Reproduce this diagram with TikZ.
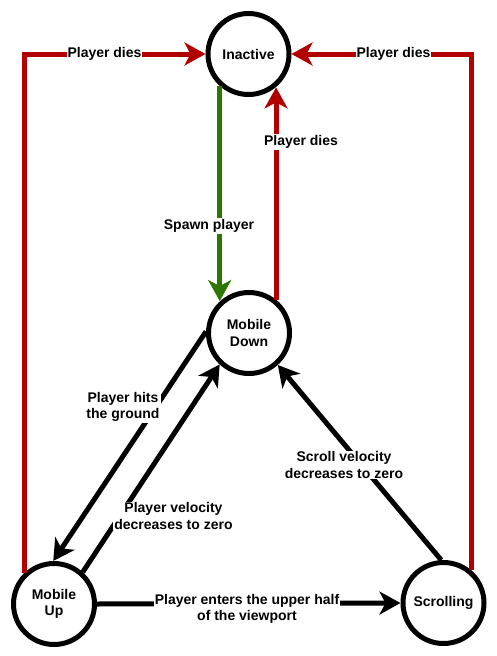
\documentclass[tikz,border=0pt]{standalone}
\usepackage{fontspec}
\setmainfont{Liberation Sans}
\usetikzlibrary{arrows.meta}
\definecolor{dred}{HTML}{B20000}
\definecolor{dgreen}{HTML}{2D7600}
\begin{document}
\begin{tikzpicture}[x=1pt,y=-1pt,
  state/.style={circle,draw=black,line width=5pt,minimum size=81pt,inner sep=0pt,align=center,font=\bfseries\fontsize{14}{16.5}\selectfont},
  conn/.style={line width=5pt,-{Stealth[length=21pt,width=23pt,inset=6pt]}},
  redconn/.style={conn,draw=dred,color=dred},
  lbl/.style={fill=white,inner sep=1pt,align=center,font=\bfseries\fontsize{14}{16.5}\selectfont}]
\useasboundingbox (0,0) rectangle (496,656);
\node[state] (IN) at (248.5,54) {Inactive};
\node[state] (MD) at (249,333) {Mobile\\Down};
\node[state] (MU) at (54,604) {Mobile\\Up};
\node[state] (SC) at (443.5,603) {Scrolling};
% red connectors
\draw[redconn] (MU.134) |- (IN.west);
\draw[redconn] (SC.50) |- (IN.east);
\draw[redconn] (MD.51) -- (MD.51 |- IN.-51);
% green
\draw[conn,draw=dgreen,color=dgreen] (IN.-132) -- (IN.-132 |- MD.132);
% black
\draw[conn] (MD.178) -- (MU.91);
\draw[conn] (MU.48) -- (MD.-133);
\draw[conn] (SC.93) -- (MD.-48);
\draw[conn] (MU.east) -- (SC.west);
% labels
\node[lbl] (l1) at (104.5,54) {Player dies};
\node[lbl] (l2) at (393.5,54) {Player dies};
\node[lbl] (l3) at (301,142) {Player dies};
\node[lbl] (l4) at (209,226) {Spawn player};
\node[lbl] (l5) at (123,407) {Player hits\\the ground};
\node[lbl] (l6) at (173.5,516) {Player velocity\\decreases to zero};
\node[lbl] (l7) at (344,465) {Scroll velocity\\decreases to zero};
\node[lbl] (l8) at (247,609) {Player enters the upper half\\of the viewport};
\end{tikzpicture}
\end{document}
